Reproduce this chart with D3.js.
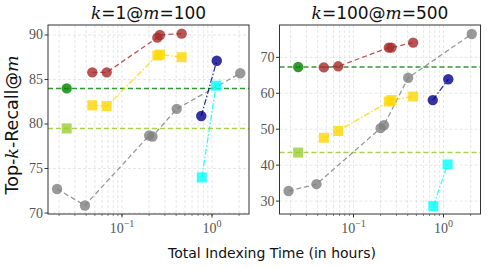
<!DOCTYPE html>
<html>
<head>
<meta charset="utf-8">
<script src="https://cdn.jsdelivr.net/npm/d3@7"></script>
<style>
  body { margin: 0; background: #fff; }
  svg { display: block; }
</style>
</head>
<body>
<div id="chart"></div>
<script>
// indexing time (hours) per method
var brownX = [0.0468, 0.0676, 0.247, 0.264, 0.46];
var goldX = [0.0468, 0.0676, 0.247, 0.264, 0.46];
var grayX = [0.019, 0.0388, 0.2, 0.218, 0.405, 2.06];
var blueX = [0.76, 1.13];
var cyanX = [0.77, 1.11];
var refX = 0.0243;

// k=1@m=100
var brownY1 = [85.8, 85.8, 89.7, 90.0, 90.15];
var goldY1 = [82.1, 82.0, 87.7, 87.8, 87.5];
var grayY1 = [72.7, 70.85, 78.7, 78.6, 81.7, 85.7];
var blueY1 = [80.9, 87.1];
var cyanY1 = [74.0, 84.3];
var greenY1 = 84.0;
var lightY1 = 79.5;

// k=100@m=500
var brownY2 = [67.2, 67.5, 72.7, 72.7, 74.1];
var goldY2 = [47.6, 49.5, 57.7, 58.1, 59.1];
var grayY2 = [32.8, 34.7, 50.3, 51.1, 64.3, 76.5];
var blueY2 = [58.1, 63.9];
var cyanY2 = [28.6, 40.2];
var greenY2 = 67.3;
var lightY2 = 43.5;

var ticks1 = [70, 75, 80, 85, 90];
var ticks2 = [30, 40, 50, 60, 70];

var svgWidth = 487;
var svgHeight = 269;

var svg = d3.select("#chart")
  .append("svg")
  .attr("width", svgWidth)
  .attr("height", svgHeight);

var plotTop = 25, plotBottom = 214;

function drawPanel(left, right, yDomain, yTicks, ys, title) {
  var x = d3.scaleLog().domain([0.01507, 2.576]).range([left, right]);
  var y = d3.scaleLinear().domain(yDomain).range([plotBottom, plotTop]);

  var g = svg.append("g");

  // grid: minor + major verticals, major horizontals
  var minor = [];
  [0.01, 0.1, 1].forEach(function(d) {
    for (var i = 1; i < 10; i++) {
      var v = d * i;
      if (v >= x.domain()[0] && v <= x.domain()[1]) minor.push(v);
    }
  });
  g.selectAll(".vgrid").data(minor).enter().append("line")
    .attr("x1", d => x(d)).attr("x2", d => x(d))
    .attr("y1", plotTop).attr("y2", plotBottom)
    .attr("stroke", "#dcdcdc")
    .attr("stroke-width", 0.7)
    .attr("stroke-dasharray", "3,2");
  g.selectAll(".hgrid").data(yTicks).enter().append("line")
    .attr("x1", left).attr("x2", right)
    .attr("y1", d => y(d)).attr("y2", d => y(d))
    .attr("stroke", "#dcdcdc")
    .attr("stroke-width", 0.7)
    .attr("stroke-dasharray", "3,2");

  // reference lines
  g.append("line")
    .attr("x1", left).attr("x2", right)
    .attr("y1", y(ys.green)).attr("y2", y(ys.green))
    .attr("stroke", "#339933").attr("stroke-width", 1.5)
    .attr("stroke-dasharray", "5,3");
  g.append("line")
    .attr("x1", left).attr("x2", right)
    .attr("y1", y(ys.light)).attr("y2", y(ys.light))
    .attr("stroke", "#a8d34e").attr("stroke-width", 1.5)
    .attr("stroke-dasharray", "5,3");

  var series = [
    {xs: grayX, ys: ys.gray, color: "#808080", dash: "5,3", shape: "circle"},
    {xs: brownX, ys: ys.brown, color: "#a52a2a", dash: "5,3", shape: "circle"},
    {xs: goldX, ys: ys.gold, color: "#ffd700", dash: "6,2,1.5,2", shape: "square"},
    {xs: blueX, ys: ys.blue, color: "#00008b", dash: "6,2,1.5,2", shape: "circle"},
    {xs: cyanX, ys: ys.cyan, color: "#00ffff", dash: "6,2,1.5,2", shape: "square"},
    {xs: [refX], ys: [ys.green], color: "#008000", dash: null, shape: "circle"},
    {xs: [refX], ys: [ys.light], color: "#9acd32", dash: null, shape: "square"}
  ];

  var line = d3.line().x(d => x(d[0])).y(d => y(d[1]));

  series.forEach(function(s) {
    var pts = s.xs.map((v, i) => [v, s.ys[i]]);
    if (pts.length > 1) {
      g.append("path")
        .attr("d", line(pts))
        .attr("fill", "none")
        .attr("stroke", s.color)
        .attr("stroke-opacity", 0.8)
        .attr("stroke-width", 1.3)
        .attr("stroke-dasharray", s.dash);
    }
    if (s.shape === "circle") {
      g.selectAll(null).data(pts).enter().append("circle")
        .attr("cx", d => x(d[0])).attr("cy", d => y(d[1]))
        .attr("r", 5.2)
        .attr("fill", s.color).attr("fill-opacity", 0.8);
    } else {
      g.selectAll(null).data(pts).enter().append("rect")
        .attr("x", d => x(d[0]) - 5).attr("y", d => y(d[1]) - 5)
        .attr("width", 10).attr("height", 10)
        .attr("fill", s.color).attr("fill-opacity", 0.8);
    }
  });

  // frame
  g.append("rect")
    .attr("x", left).attr("y", plotTop)
    .attr("width", right - left).attr("height", plotBottom - plotTop)
    .attr("fill", "none").attr("stroke", "#333").attr("stroke-width", 1);

  // y ticks
  var yt = g.selectAll(".yt").data(yTicks).enter().append("g");
  yt.append("line")
    .attr("x1", left - 3.5).attr("x2", left)
    .attr("y1", d => y(d)).attr("y2", d => y(d))
    .attr("stroke", "#333");
  yt.append("text")
    .attr("x", left - 5).attr("y", d => y(d) + 4.5)
    .attr("text-anchor", "end")
    .attr("font-family", "Liberation Serif, serif")
    .attr("font-size", 14)
    .attr("fill", "#555")
    .text(d => d);

  // x ticks
  g.selectAll(".xm").data(minor).enter().append("line")
    .attr("x1", d => x(d)).attr("x2", d => x(d))
    .attr("y1", plotBottom).attr("y2", plotBottom + 2)
    .attr("stroke", "#333").attr("stroke-width", 0.6);
  var xt = g.selectAll(".xt").data([[0.1, "\u22121"], [1, "0"]]).enter().append("g");
  xt.append("line")
    .attr("x1", d => x(d[0])).attr("x2", d => x(d[0]))
    .attr("y1", plotBottom).attr("y2", plotBottom + 3.5)
    .attr("stroke", "#333");
  var lab = xt.append("text")
    .attr("x", d => x(d[0])).attr("y", plotBottom + 19)
    .attr("text-anchor", "middle")
    .attr("font-family", "Liberation Serif, serif")
    .attr("font-size", 14)
    .attr("fill", "#555");
  lab.append("tspan").text("10");
  lab.append("tspan").attr("dy", -6).attr("font-size", 10).text(d => d[1]);

  // title
  var t = svg.append("text")
    .attr("x", (left + right) / 2).attr("y", 19)
    .attr("text-anchor", "middle")
    .attr("font-family", "DejaVu Sans, sans-serif")
    .attr("font-size", 17)
    .attr("fill", "#111");
  t.append("tspan").attr("font-family", "DejaVu Serif, serif").attr("font-style", "italic").text("k");
  t.append("tspan").text("=" + title[0] + "@");
  t.append("tspan").attr("font-family", "DejaVu Serif, serif").attr("font-style", "italic").text("m");
  t.append("tspan").text("=" + title[1]);
}

drawPanel(48, 249, [69.89, 91.12], ticks1,
  {brown: brownY1, gold: goldY1, gray: grayY1, blue: blueY1, cyan: cyanY1, green: greenY1, light: lightY1},
  ["1", "100"]);
drawPanel(279.5, 480.5, [26.4, 79.0], ticks2,
  {brown: brownY2, gold: goldY2, gray: grayY2, blue: blueY2, cyan: cyanY2, green: greenY2, light: lightY2},
  ["100", "500"]);

// axis labels
var yl = svg.append("text")
  .attr("transform", "translate(18, 125) rotate(-90)")
  .attr("text-anchor", "middle")
  .attr("font-family", "DejaVu Sans, sans-serif")
  .attr("font-size", 17.5)
  .attr("fill", "#111");
yl.append("tspan").text("Top-");
yl.append("tspan").attr("font-family", "DejaVu Serif, serif").attr("font-style", "italic").text("k");
yl.append("tspan").text("-Recall@");
yl.append("tspan").attr("font-family", "DejaVu Serif, serif").attr("font-style", "italic").text("m");

svg.append("text")
  .attr("x", 272).attr("y", 258)
  .attr("text-anchor", "middle")
  .attr("font-family", "DejaVu Sans, sans-serif")
  .attr("font-size", 14)
  .attr("fill", "#111")
  .text("Total Indexing Time (in hours)");
</script>
</body>
</html>
